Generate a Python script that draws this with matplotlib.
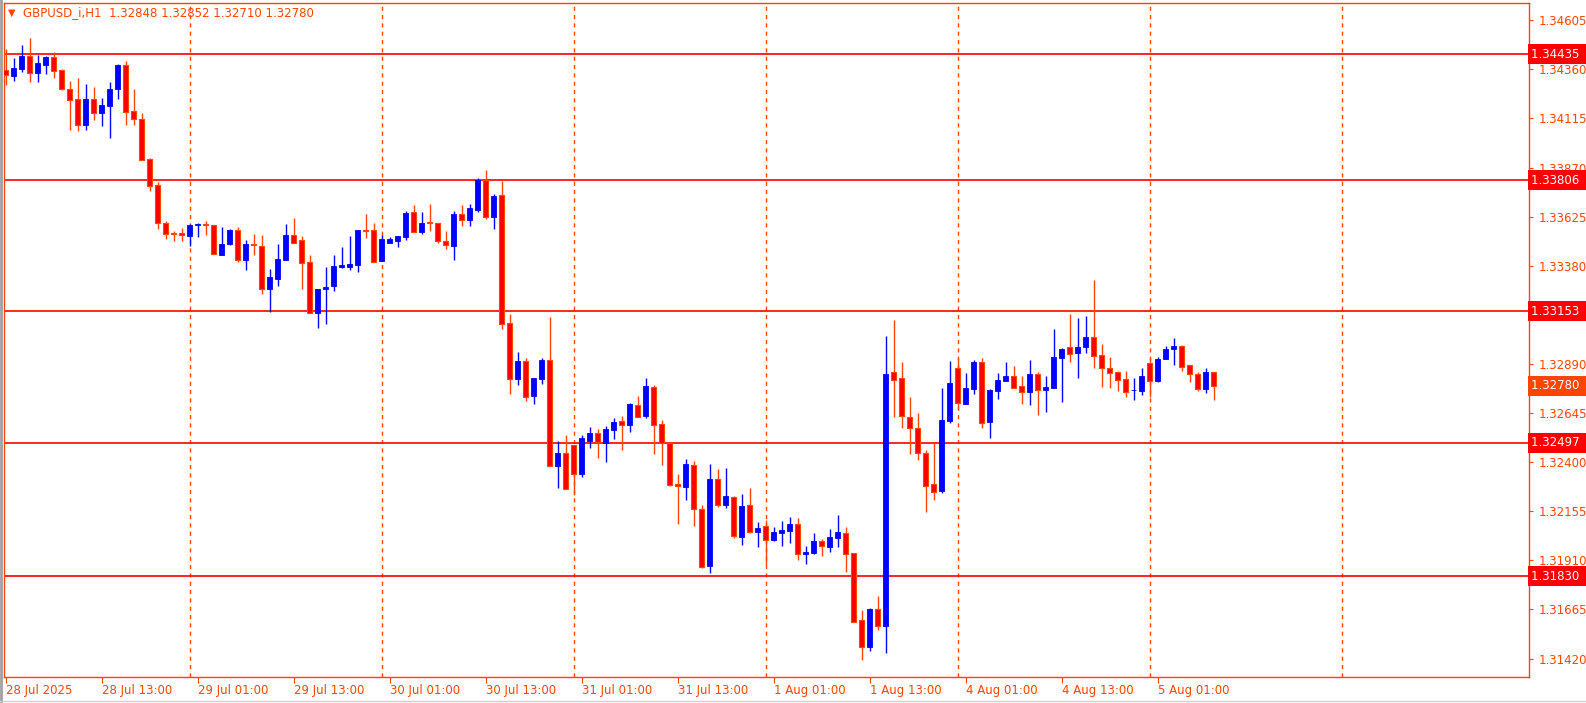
import numpy as np
import matplotlib
matplotlib.use("Agg")
import matplotlib.pyplot as plt
from matplotlib.lines import Line2D

# GBPUSD_i H1 candles, prices in 1e-5 units
open_pts = [134355,134325,134360,134425,134340,134380,134420,134355,134260,134211,
134081,134211,134140,134176,134260,134380,134150,134111,133911,133782,
133592,133541,133541,133527,133582,133587,133582,133432,133487,133557,
133407,133487,133477,133263,133312,133407,133532,133507,133397,133143,
133263,133277,133372,133372,133382,133557,133557,133402,133492,133502,
133522,133646,133546,133597,133592,133502,133477,133636,133607,133657,
133806,133621,133731,133093,132813,132903,132729,132813,132908,132379,
132444,132484,132339,132508,132544,132494,132559,132603,132584,132683,
132629,132773,132588,132494,132289,132274,132384,132164,131880,132315,
132184,132225,132025,132184,132050,132079,132010,132045,132055,132089,
131940,131945,132005,131975,132020,132045,131945,131611,131476,131665,
131581,132848,132818,132624,132569,132444,132289,132254,132603,132868,
132688,132763,132898,132598,132754,132803,132829,132778,132749,132839,
132759,132768,132918,132973,132943,132973,133023,132933,132868,132848,
132813,132759,132754,132893,132803,132913,132963,132978,132883,132839,
132763,132848]
high_pts = [134460,134415,134480,134516,134430,134425,134445,134360,134301,134315,
134286,134270,134216,134296,134386,134400,134260,134140,133916,133796,
133602,133551,133567,133587,133592,133602,133582,133572,133562,133572,
133507,133536,133532,133362,133487,133587,133617,133527,133432,133263,
133372,133432,133472,133527,133557,133636,133592,133532,133522,133527,
133651,133682,133646,133687,133592,133551,133651,133682,133687,133816,
133856,133736,133801,133138,132948,132918,132818,132918,133123,132508,
132534,132484,132534,132574,132564,132579,132619,132629,132693,132729,
132818,132784,132608,132499,132339,132415,132404,132184,132389,132364,
132369,132230,132240,132269,132100,132110,132074,132105,132125,132120,
131980,132045,132015,132065,132135,132074,131945,131660,131670,131730,
133027,133107,132898,132724,132644,132459,132499,132768,132903,132918,
132844,132908,132918,132763,132844,132898,132878,132829,132908,132848,
132829,133063,132968,133138,133118,133127,133307,132988,132923,132853,
132853,132818,132868,132918,132923,132978,133018,132983,132883,132848,
132868,132852]
low_pts = [134281,134301,134345,134296,134296,134335,134315,134255,134055,134050,
134055,134106,134076,134016,134211,134081,134081,133906,133751,133562,
133512,133502,133502,133477,133522,133532,133437,133432,133482,133397,
133358,133432,133237,133148,133277,133407,133492,133263,133143,133068,
133088,133253,133367,133358,133348,133517,133397,133402,133492,133472,
133507,133546,133537,133551,133492,133462,133407,133577,133577,133646,
133612,133562,133063,132739,132784,132703,132688,132788,132379,132269,
132264,132235,132325,132469,132419,132399,132514,132459,132549,132624,
132619,132439,132384,132279,132089,132210,132079,131870,131845,132174,
132169,132020,131985,132045,131975,131885,132005,131980,131996,131910,
131891,131940,131930,131950,131975,131850,131601,131411,131456,131565,
131446,132624,132569,132439,132409,132150,132210,132244,132593,132664,
132688,132739,132569,132519,132713,132803,132768,132688,132683,132634,
132649,132768,132698,132898,132818,132943,132868,132773,132768,132754,
132724,132708,132734,132724,132798,132913,132883,132857,132798,132754,
132744,132710]
close_pts = [134330,134365,134425,134340,134391,134420,134350,134260,134206,134081,
134211,134140,134181,134260,134380,134145,134111,133906,133777,133592,
133536,133539,133532,133582,133587,133584,133437,133487,133557,133407,
133487,133482,133263,133322,133412,133532,133492,133392,133143,133263,
133273,133377,133382,133387,133557,133551,133397,133512,133512,133527,
133641,133546,133592,133592,133502,133482,133636,133607,133667,133806,
133621,133726,133088,132813,132903,132724,132818,132908,132379,132444,
132264,132339,132519,132544,132499,132564,132598,132584,132688,132624,
132778,132584,132494,132284,132279,132389,132164,131875,132315,132184,
132230,132030,132179,132050,132070,132010,132050,132060,132089,131940,
131950,132005,131980,132025,132050,131940,131601,131476,131665,131581,
132839,132808,132629,132569,132444,132279,132249,132608,132793,132693,
132768,132898,132593,132759,132808,132829,132768,132749,132839,132759,
132773,132923,132963,132938,132973,133022,132929,132868,132844,132808,
132749,132759,132829,132803,132913,132963,132978,132873,132839,132763,
132848,132780]

date_labels = ["28 Jul 2025", "28 Jul 13:00", "29 Jul 01:00", "29 Jul 13:00",
               "30 Jul 01:00", "30 Jul 13:00", "31 Jul 01:00", "31 Jul 13:00",
               "1 Aug 01:00", "1 Aug 13:00", "4 Aug 01:00", "4 Aug 13:00",
               "5 Aug 01:00"]
price_ticks = [1.31420, 1.31665, 1.31910, 1.32155, 1.32400, 1.32645, 1.32890,
               1.33135, 1.33380, 1.33625, 1.33870, 1.34115, 1.34360, 1.34605]
hidden_tick = 1.33135  # covered by the 1.33153 level box
levels = [1.34435, 1.33806, 1.33153, 1.32497, 1.31830]
header = "GBPUSD_i,H1  1.32848 1.32852 1.32710 1.32780"
last_price = 1.32780

o = np.array(open_pts) / 1e5
h = np.array(high_pts) / 1e5
l = np.array(low_pts) / 1e5
c = np.array(close_pts) / 1e5

OR = "#FF4500"
W, H = 1586, 703
fig = plt.figure(figsize=(W / 100, H / 100), dpi=100)
ax = fig.add_axes([4 / W, 26 / H, 1525 / W, 674 / H])

x = np.arange(len(o))
up = c >= o
# wicks
ax.vlines(x[up], l[up], h[up], color="#0000FF", lw=1.0, zorder=3)
ax.vlines(x[~up], l[~up], h[~up], color=OR, lw=1.0, zorder=3)
# bodies
lo = np.minimum(o, c)
hi = np.maximum(o, c)
ht = np.maximum(hi - lo, 0.000012)
ax.bar(x[up], ht[up], bottom=lo[up], width=0.6, color="#0000FF",
       edgecolor="#0000FF", lw=0.6, zorder=4)
ax.bar(x[~up], ht[~up], bottom=lo[~up], width=0.6, color="#FF0000",
       edgecolor=OR, lw=0.8, zorder=4)

ax.set_xlim(-0.2, 190.4)
ax.set_ylim(1.31328, 1.34691)

# vertical dashed grid
for gx in range(23, 191, 24):
    ax.axvline(gx, color=OR, lw=1, ls=(0, (3, 3)), zorder=1)

# horizontal levels
for lv in levels:
    ax.axhline(lv, color="#FF0000", lw=1.2, zorder=2)

for sp in ax.spines.values():
    sp.set_color(OR)
    sp.set_linewidth(1)

ax.yaxis.tick_right()
ax.set_yticks(price_ticks)
ax.set_yticklabels(["" if abs(p - hidden_tick) < 1e-9 else f"{p:.5f}"
                    for p in price_ticks])
ax.tick_params(axis="y", colors=OR, labelsize=8.5, length=3, pad=4)
ax.set_xticks(np.arange(0, 12 * len(date_labels), 12))
ax.set_xticklabels(date_labels, ha="left")
ax.tick_params(axis="x", colors=OR, labelsize=8.5, length=4, pad=1)

tr = ax.get_yaxis_transform()
for lv in levels:
    ax.text(1.0015, lv, f"{lv:.5f}  ", transform=tr, va="center", ha="left",
            color="white", fontsize=8.5, clip_on=False, zorder=10,
            bbox=dict(boxstyle="square,pad=0.3", fc="#FF0000", ec="none"))
ax.text(1.0015, last_price, f"{last_price:.5f}  ", transform=tr, va="center",
        ha="left", color="white", fontsize=8.5, clip_on=False, zorder=10,
        bbox=dict(boxstyle="square,pad=0.3", fc=OR, ec="none"))

fig.text(8 / W, 1 - 13 / H, "\u25bc", color=OR, fontsize=7, va="center")
fig.text(23 / W, 1 - 13 / H, header, color=OR, fontsize=8.5, va="center")

fig.add_artist(Line2D([1 / W, 1 / W], [0, 1], color="#A0A0A0", lw=2))
fig.add_artist(Line2D([0, 1], [2 / H, 2 / H], color="#D0D0D0", lw=1))

fig.savefig("out.png", dpi=100)
